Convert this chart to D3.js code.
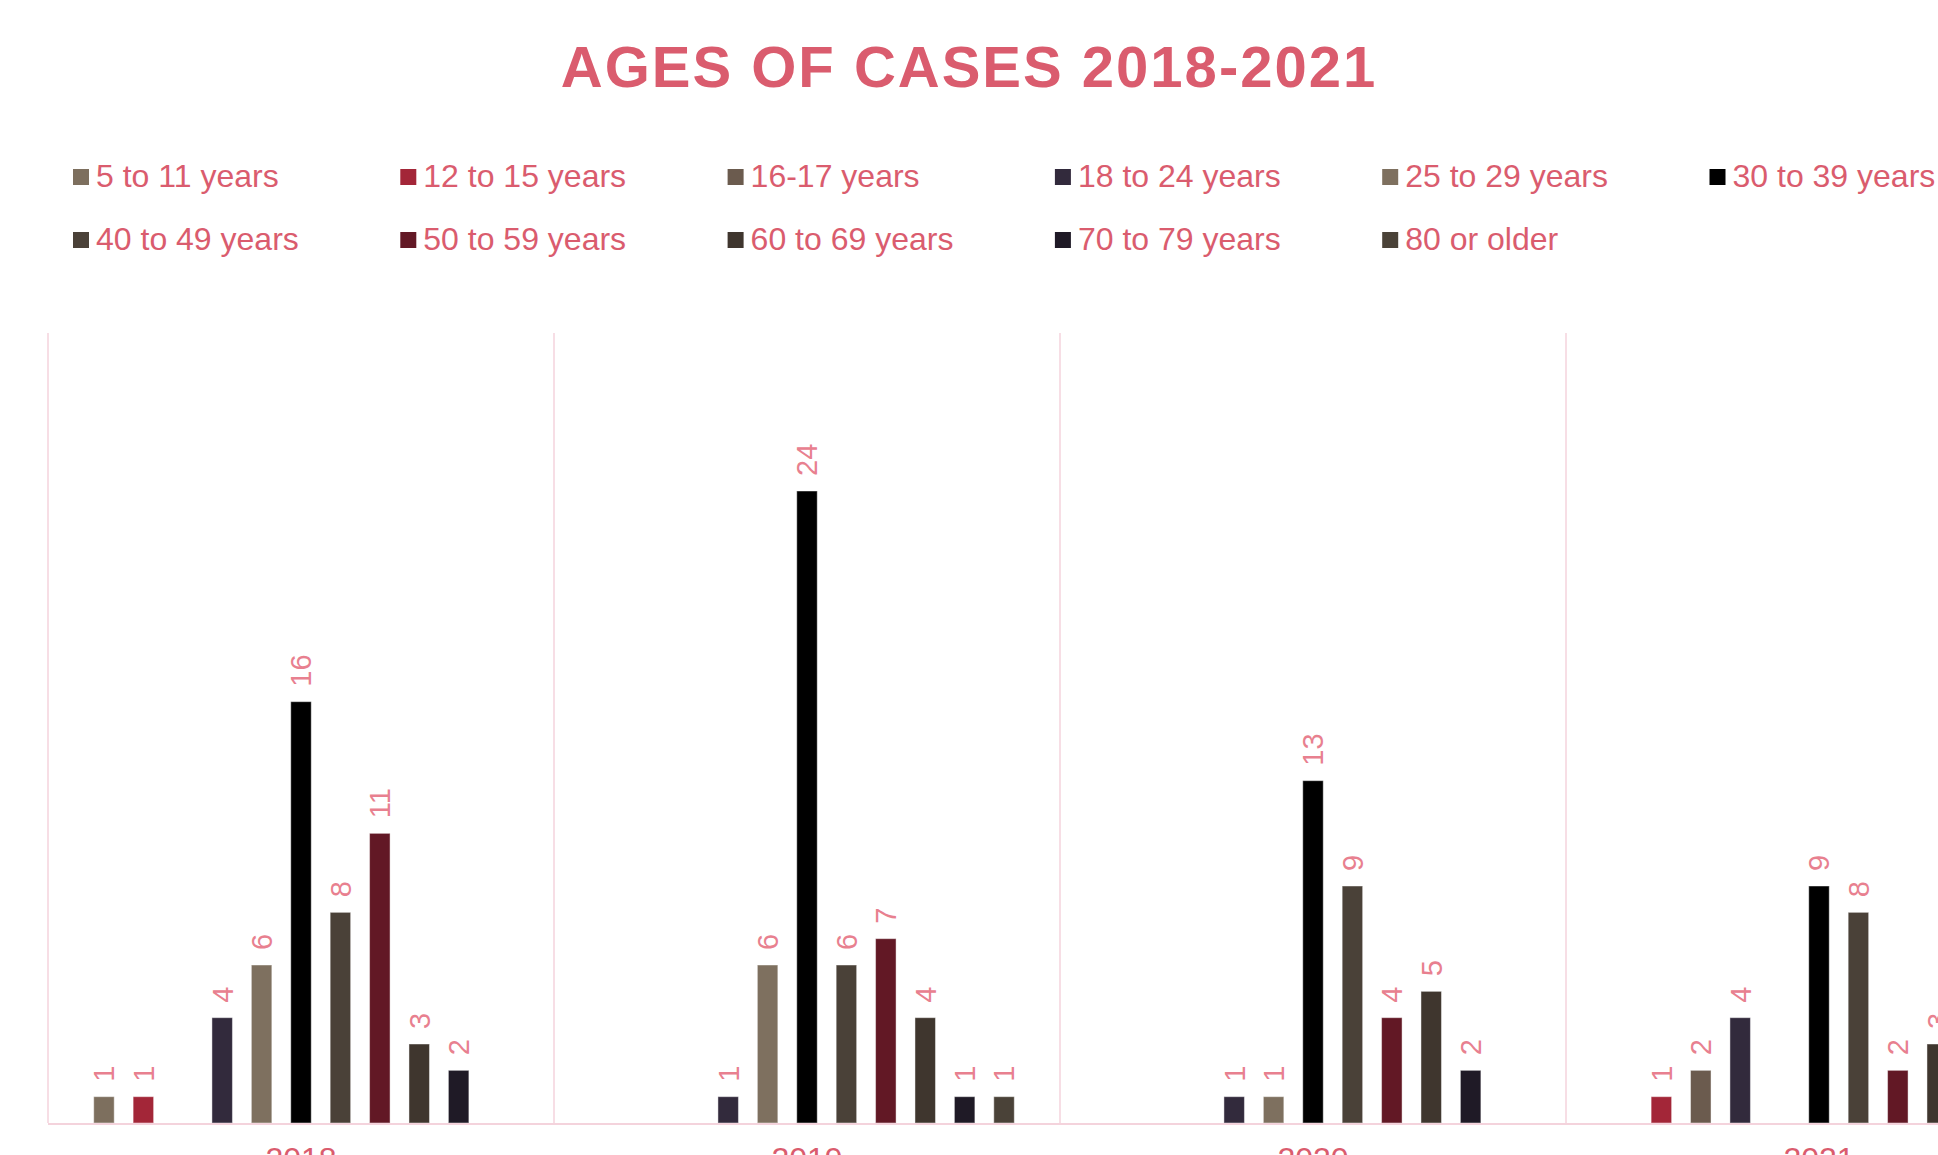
<!DOCTYPE html>
<html>
<head>
<meta charset="utf-8">
<script src="https://cdn.jsdelivr.net/npm/d3@7"></script>
<style>
  body { margin: 0; overflow: hidden; background: #fff; }
  text { font-family: "Liberation Sans", Arial, sans-serif; }
</style>
</head>
<body>
<div id="chart"></div>
<script>
// Data
const YEARS = ["2018", "2019", "2020", "2021"];
const AGE_GROUPS = ["5 to 11 years", "12 to 15 years", "16-17 years", "18 to 24 years", "25 to 29 years", "30 to 39 years",
  "40 to 49 years", "50 to 59 years", "60 to 69 years", "70 to 79 years", "80 or older"];
const AGE_COLORS = ["#7d6f5e", "#a32638", "#6b5b4e", "#322a3c", "#7e705f", "#000000",
  "#4a4138", "#621825", "#3f362e", "#1f1a26", "#4a4238"];
const cases2018 = [1, 1, 0, 4, 6, 16, 8, 11, 3, 2, 0];
const cases2019 = [0, 0, 0, 1, 6, 24, 6, 7, 4, 1, 1];
const cases2020 = [0, 0, 0, 1, 1, 13, 9, 4, 5, 2, 0];
const cases2021 = [0, 1, 2, 4, 0, 9, 8, 2, 3, 0, 0];
const Y_DOMAIN = [0, 30];

const casesByYear = [cases2018, cases2019, cases2020, cases2021];

const WIDTH = 2120, HEIGHT = 1200;
const PLOT = { LEFT: 48, RIGHT: 2072, TOP: 333, BOTTOM: 1123 };
const TITLE_COLOR = "#da5c6e";
const LABEL_COLOR = "#e8808f";

const svg = d3.select("#chart").append("svg").attr("width", WIDTH).attr("height", HEIGHT);

// Title
svg.append("text")
  .attr("x", 969).attr("y", 87)
  .attr("text-anchor", "middle")
  .attr("font-size", "58px").attr("font-weight", "bold")
  .attr("letter-spacing", "2px")
  .attr("fill", TITLE_COLOR)
  .text("AGES OF CASES 2018-2021");

// Legend, 6 per row
const legend = svg.append("g").attr("class", "legend");
const legendItem = legend.selectAll("g").data(AGE_GROUPS).enter().append("g")
  .attr("transform", (d, i) => `translate(${73 + (i % 6) * 327.3}, ${187 + Math.floor(i / 6) * 63})`);
legendItem.append("rect").attr("x", 0).attr("y", -18).attr("width", 16).attr("height", 16)
  .attr("fill", (d, i) => AGE_COLORS[i]);
legendItem.append("text").attr("x", 23).attr("y", 0)
  .attr("font-size", "32px").attr("fill", TITLE_COLOR).text(d => d);

// Scales
const x0 = d3.scaleBand().domain(YEARS).range([PLOT.LEFT, PLOT.RIGHT]).padding(0);
const x1 = d3.scaleBand().domain(AGE_GROUPS).range([0, x0.bandwidth()]).paddingInner(0.48).paddingOuter(1.16);
const y = d3.scaleLinear().domain(Y_DOMAIN).range([PLOT.BOTTOM, PLOT.TOP]);

// Category separators
const seps = YEARS.map(d => x0(d)).concat([PLOT.RIGHT]);
svg.append("g").selectAll("line").data(seps).enter().append("line")
  .attr("x1", d => d).attr("x2", d => d)
  .attr("y1", PLOT.TOP).attr("y2", PLOT.BOTTOM)
  .attr("stroke", "#f4d3dc").attr("stroke-width", 1.5);

// Bars
const groups = svg.append("g").selectAll("g").data(YEARS).enter().append("g")
  .attr("transform", d => `translate(${x0(d)},0)`);

const rows = groups.selectAll("g.bar").data((d, yi) => AGE_GROUPS.map((a, i) => ({ age: a, i: i, value: casesByYear[yi][i] })))
  .enter().append("g").attr("class", "bar");

rows.filter(d => d.value > 0).append("rect")
  .attr("x", d => x1(d.age))
  .attr("y", d => y(d.value))
  .attr("width", x1.bandwidth())
  .attr("height", d => y(0) - y(d.value))
  .attr("fill", d => AGE_COLORS[d.i])
  .attr("stroke", "#ffffff").attr("stroke-opacity", 0.45).attr("stroke-width", 1);

rows.filter(d => d.value > 0).append("text")
  .attr("transform", d => `translate(${x1(d.age) + x1.bandwidth() / 2}, ${y(d.value) - 15}) rotate(-90)`)
  .attr("dy", "0.36em")
  .attr("font-size", "29px")
  .attr("fill", LABEL_COLOR)
  .text(d => d.value);

// Baseline
svg.append("line")
  .attr("x1", PLOT.LEFT).attr("x2", PLOT.RIGHT)
  .attr("y1", PLOT.BOTTOM + 1).attr("y2", PLOT.BOTTOM + 1)
  .attr("stroke", "#f4d3dc").attr("stroke-width", 2);

// Year labels
const xAxis = svg.append("g").attr("transform", `translate(0, ${PLOT.BOTTOM})`)
  .call(d3.axisBottom(x0).tickSize(0).tickPadding(24));
xAxis.select(".domain").remove();
xAxis.selectAll("text").attr("font-size", "32px").attr("fill", TITLE_COLOR)
  .attr("font-family", "'Liberation Sans', Arial, sans-serif");
</script>
</body>
</html>
